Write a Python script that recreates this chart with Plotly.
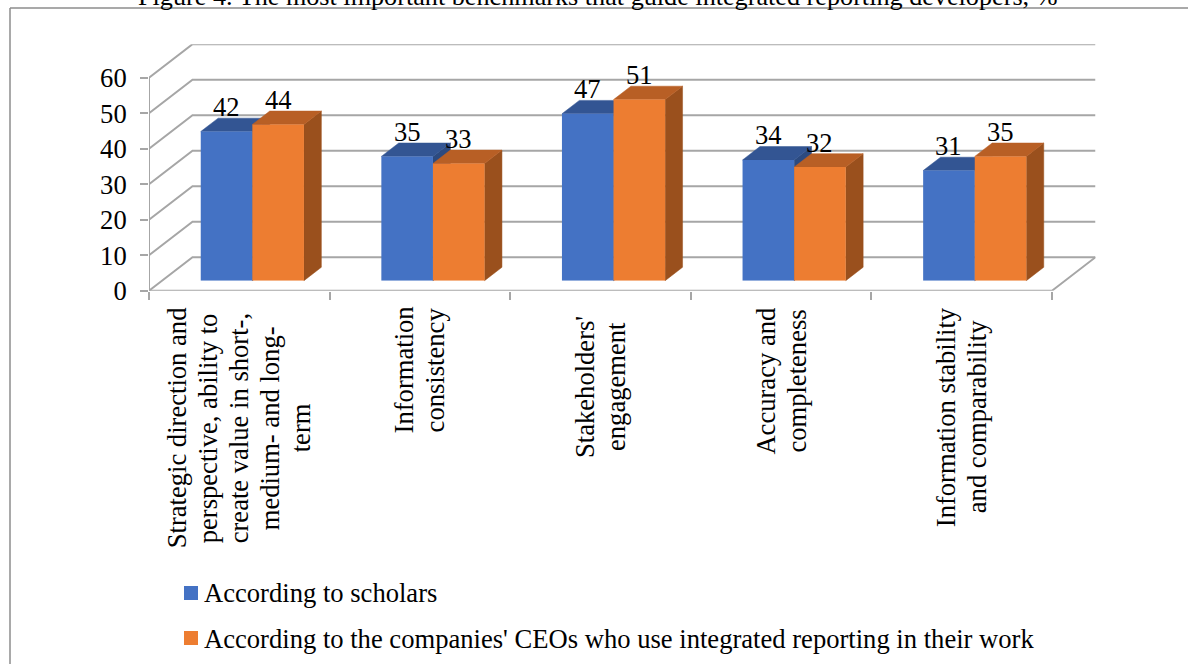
import plotly.graph_objects as go

# ---------- data ----------
categories = [
    "Strategic direction and perspective, ability to create value in short-, medium- and long-term",
    "Information consistency",
    "Stakeholders' engagement",
    "Accuracy and completeness",
    "Information stability and comparability",
]
label_lines = [
    ["Strategic direction and", "perspective, ability to", "create value in short-,", "medium- and long-", "term"],
    ["Information", "consistency"],
    ["Stakeholders'", "engagement"],
    ["Accuracy and", "completeness"],
    ["Information stability", "and comparability"],
]
scholars = [42, 35, 47, 34, 31]
ceos = [44, 33, 51, 32, 35]
y_ticks = [0, 10, 20, 30, 40, 50, 60]
series_names = ["According to scholars",
                "According to the companies' CEOs who use integrated reporting in their work"]
title_text = "Figure 4. The most important benchmarks that guide integrated reporting developers, %"

# ---------- layout constants (pixels) ----------
W, H = 1188, 664
X0, X1 = 149.0, 1052.0      # front floor edge
Y0, Y60 = 290.7, 77.7       # front wall, value 0 and 60
DX, DY = 43.5, 33.5         # full depth of the box
D_FRONT, D_BACK = 0.3, 0.7  # depth of the bars inside the box
LABEL_MID = [428, 370, 387, 381, 417]
FONT = "Liberation Serif"
FS = 26.6
GRID = "#a6a6a6"
COL = ["#4472C4", "#ED7D31"]
TOP = ["#335593", "#B85F25"]
SIDE = ["#2C4A80", "#9A501D"]

px_x = lambda p: p / W
px_y = lambda p: 1 - p / H
cat_px = (X1 - X0) / 5
val_px = (Y0 - Y60) / 60
dx_u, dy_u = DX / cat_px, DY / val_px
n = len(categories)
bar_w = (1 - 0.4286) / 2

fig = go.Figure()


def line(xs, ys):
    fig.add_trace(go.Scatter(x=xs, y=ys, mode="lines", showlegend=False, hoverinfo="skip",
                             line=dict(color=GRID, width=2), xaxis="x", yaxis="y"))


# back wall and side wall gridlines, floor
for v in y_ticks:
    line([-0.5, -0.5 + dx_u, n - 0.5 + dx_u], [v, v + dy_u, v + dy_u])
line([-0.5, -0.5], [0, 60])
line([-0.5, n - 0.5, n - 0.5 + dx_u], [0, 0, dy_u])


def face(xs, ys, color):
    fig.add_trace(go.Scatter(x=xs, y=ys, mode="lines", fill="toself", fillcolor=color,
                             line=dict(color=color, width=0.5), showlegend=False, hoverinfo="skip",
                             xaxis="x", yaxis="y"))


# top and side faces of each bar, computed from values
for i in range(n):
    for s, vals in enumerate([scholars, ceos]):
        v = vals[i]
        xl = i - bar_w + s * bar_w
        xr = xl + bar_w
        f_x, f_y = D_FRONT * dx_u, D_FRONT * dy_u
        b_x, b_y = D_BACK * dx_u, D_BACK * dy_u
        face([xr + f_x, xr + b_x, xr + b_x, xr + f_x, xr + f_x],
             [f_y, b_y, v + b_y, v + f_y, f_y], SIDE[s])
        face([xl + f_x, xr + f_x, xr + b_x, xl + b_x, xl + f_x],
             [v + f_y, v + f_y, v + b_y, v + b_y, v + f_y], TOP[s])

# real bars (front faces) on a second pair of axes, shifted to the front plane of the bars
for s, vals in enumerate([scholars, ceos]):
    fig.add_trace(go.Bar(x=categories, y=vals, name=series_names[s], marker=dict(color=COL[s], line_width=0),
                         xaxis="x2", yaxis="y2", showlegend=False))

ann = []
# data labels
for s, vals in enumerate([scholars, ceos]):
    for c, v in zip(categories, vals):
        ann.append(dict(xref="x2", yref="y2", x=c, y=v, text=str(v), showarrow=False,
                        xshift=(s - 0.5) * bar_w * cat_px, yshift=24.5, yanchor="middle",
                        font=dict(family=FONT, size=FS, color="black")))
# category labels
for i, lines in enumerate(label_lines):
    for j, t in enumerate(lines):
        ann.append(dict(xref="x", yref="paper", x=i, y=px_y(LABEL_MID[i]), text=t, textangle=-90,
                        showarrow=False, xshift=(j - (len(lines) - 1) / 2) * 31, yanchor="middle",
                        font=dict(family=FONT, size=FS, color="black")))
# legend
for s, (name, yc) in enumerate(zip(series_names, [593, 639])):
    ann.append(dict(xref="paper", yref="paper", x=px_x(202), y=px_y(yc), text=name, showarrow=False,
                    xanchor="left", yanchor="middle", font=dict(family=FONT, size=FS, color="black")))
# title: anchored to the top of the value axis and shifted up, so it does not push the margins
ann.append(dict(xref="x", yref="y", x=(597 - X0) / cat_px - 0.5, y=60 + dy_u, yshift=48,
                text=title_text, showarrow=False,
                xanchor="center", yanchor="middle", font=dict(family=FONT, size=26.2, color="black")))

shapes = [
    dict(type="line", xref="paper", yref="paper", x0=px_x(10), x1=px_x(10), y0=0, y1=px_y(8),
         line=dict(color="#8c8c8c", width=1.5)),
    dict(type="line", xref="paper", yref="paper", x0=px_x(10), x1=1, y0=px_y(8), y1=px_y(8),
         line=dict(color="#8c8c8c", width=1.5)),
]
for s, yc in enumerate([593, 638]):
    shapes.append(dict(type="rect", xref="paper", yref="paper", x0=px_x(184), x1=px_x(198),
                       y0=px_y(yc + 7), y1=px_y(yc - 7), fillcolor=COL[s], line_width=0))

fig.update_layout(
    width=W, height=H, autosize=False, margin=dict(l=0, r=0, t=0, b=0, autoexpand=False),
    paper_bgcolor="white", plot_bgcolor="rgba(0,0,0,0)", barmode="group", bargap=0.4286, bargroupgap=0,
    showlegend=False, annotations=ann, shapes=shapes,
    font=dict(family=FONT, size=FS, color="black"),
    xaxis=dict(domain=[px_x(X0), px_x(X1 + DX)], range=[-0.5, n - 0.5 + dx_u], automargin=False,
               tickmode="array", tickvals=[i - 0.5 for i in range(n + 1)], ticktext=[""] * (n + 1),
               ticks="outside", ticklen=8, tickwidth=1.5, tickcolor=GRID,
               showgrid=False, zeroline=False, showline=False, anchor="y"),
    yaxis=dict(domain=[px_y(Y0), px_y(Y60 - DY)], range=[0, 60 + dy_u], automargin=False,
               tickmode="array", tickvals=y_ticks, ticks="outside", ticklen=8, tickwidth=1.5, tickcolor=GRID,
               ticklabelstandoff=8,
               tickfont=dict(family=FONT, size=FS, color="black"),
               showgrid=False, zeroline=False, showline=False, anchor="x"),
    xaxis2=dict(domain=[px_x(X0 + D_FRONT * DX), px_x(X1 + D_FRONT * DX)], range=[-0.5, n - 0.5], automargin=False,
                type="category", categoryorder="array", categoryarray=categories, visible=False, anchor="y2"),
    yaxis2=dict(domain=[px_y(Y0 - D_FRONT * DY), px_y(Y60 - D_FRONT * DY)], range=[0, 60], automargin=False,
                visible=False, anchor="x2"),
)

fig.write_html("out.html", config={"displayModeBar": False},
               post_script="document.body.style.margin='0';document.body.style.overflow='hidden';")
